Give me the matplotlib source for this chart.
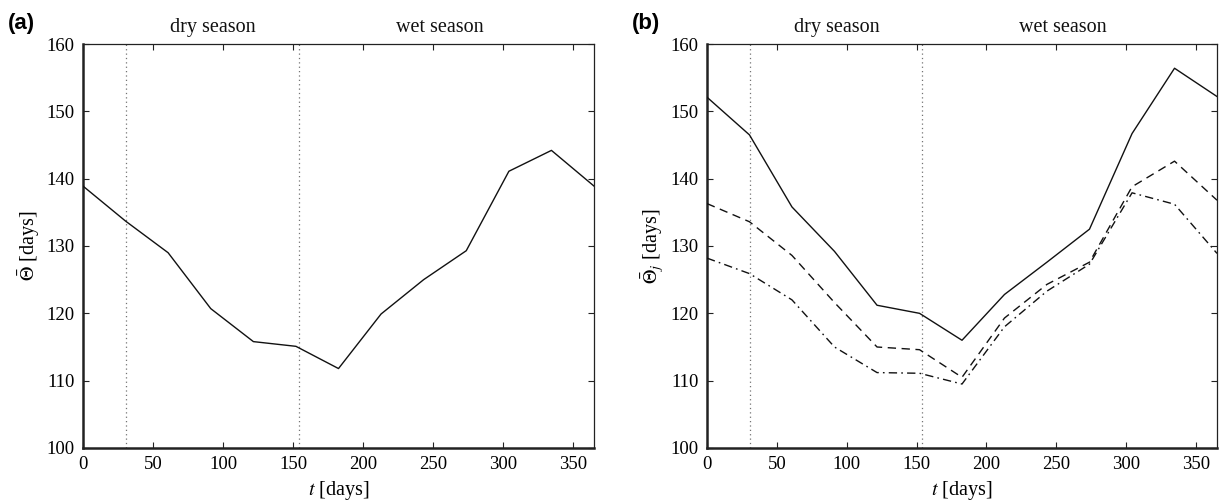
import matplotlib
matplotlib.use("Agg")
import matplotlib.pyplot as plt

plt.rcParams["font.family"] = ["Liberation Serif", "DejaVu Serif"]
plt.rcParams["mathtext.fontset"] = "stix"

# Sampling times (days) over one year
t_days = [0, 30.4, 60.8, 91.25, 121.7, 152.1, 182.5, 212.9, 243.3, 273.75, 304.2, 334.6, 365]

# (a) mean residence time over the whole domain
theta_mean = [138.9, 133.7, 129.0, 120.7, 115.8, 115.1, 111.8, 119.9, 125.0, 129.3, 141.1, 144.2, 138.9]

# (b) mean residence time per subdomain j
theta_j_solid = [152.1, 146.5, 135.8, 129.2, 121.2, 120.0, 116.0, 122.8, 127.6, 132.5, 146.7, 156.4, 152.2]
theta_j_dashed = [136.3, 133.6, 128.6, 121.6, 115.0, 114.6, 110.5, 119.3, 124.3, 127.6, 138.8, 142.6, 136.8]
theta_j_dashdot = [128.2, 125.9, 122.0, 115.0, 111.2, 111.1, 109.5, 118.0, 123.3, 127.3, 137.9, 136.2, 128.9]

# Season boundaries and labels
season_bounds = [31, 154]
season_names = ["dry season", "wet season"]
season_label_t = [93, 255]

x_ticks = [0, 50, 100, 150, 200, 250, 300, 350]
y_ticks = [100, 110, 120, 130, 140, 150, 160]

fig = plt.figure(figsize=(12.2, 5.01), dpi=100)
ax_a = fig.add_axes([83 / 1220, 53 / 501, 511 / 1220, 404 / 501])
ax_b = fig.add_axes([707 / 1220, 53 / 501, 510 / 1220, 404 / 501])


def style_axes(ax, ylabel, panel):
    ax.set_xlim(0, 365)
    ax.set_ylim(100, 160)
    ax.set_xticks(x_ticks)
    ax.set_yticks(y_ticks)
    ax.tick_params(direction="in", top=True, right=True, length=4,
                   width=0.8, labelsize=13.5, pad=6, color="#222222")
    for side in ("left", "bottom"):
        ax.spines[side].set_linewidth(1.8)
    for side in ("top", "right"):
        ax.spines[side].set_linewidth(0.9)
    for s in ax.spines.values():
        s.set_color("#222222")
    for b in season_bounds:
        ax.axvline(b, color="0.45", linestyle=(0, (1, 2.5)), linewidth=0.9, zorder=1)
    for name, tx in zip(season_names, season_label_t):
        ax.text(tx, 1.04, name, transform=ax.get_xaxis_transform(),
                ha="center", va="center", fontsize=14.5, color="#111111")
    ax.set_xlabel(r"$t$ [days]", fontsize=14.5, labelpad=4)
    ax.set_ylabel(ylabel, fontsize=14.5, labelpad=3)
    ax.text(-0.147, 1.05, panel, transform=ax.transAxes, ha="left", va="center",
            fontsize=16, fontweight="bold", family=["Liberation Sans", "DejaVu Sans"])


ax_a.plot(t_days, theta_mean, color="#111111", linewidth=1.0, zorder=3)
style_axes(ax_a, r"$\bar{\Theta}$ [days]", "(a)")

ax_b.plot(t_days, theta_j_solid, color="#111111", linewidth=1.0, zorder=3)
ax_b.plot(t_days, theta_j_dashed, color="#111111", linewidth=1.0,
          linestyle=(0, (6, 4)), zorder=3)
ax_b.plot(t_days, theta_j_dashdot, color="#111111", linewidth=1.0,
          linestyle=(0, (6, 3, 1.2, 3)), zorder=3)
style_axes(ax_b, r"$\bar{\Theta}_j$ [days]", "(b)")

fig.savefig("out.png", dpi=100)
